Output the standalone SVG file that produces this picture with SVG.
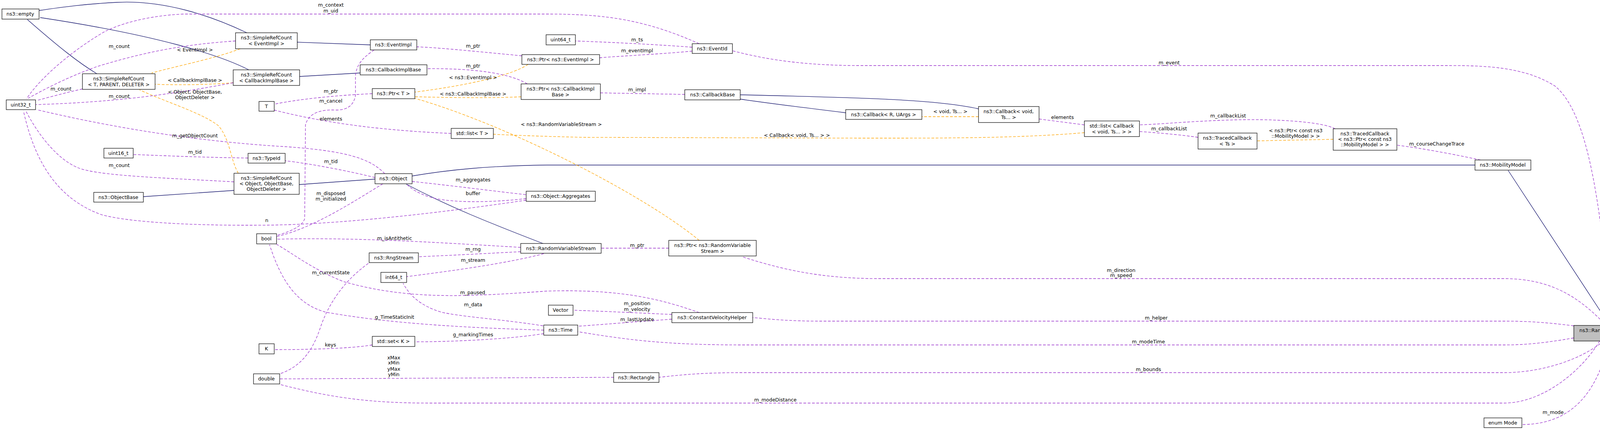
<svg xmlns="http://www.w3.org/2000/svg" width="4243" height="1102" viewBox="0 0 4243 1102">
<style>
text{font-family:"DejaVu Sans","Liberation Sans",sans-serif;font-size:12.5px;fill:#000;text-anchor:middle}
.n rect{fill:#fff;stroke:#000;stroke-width:1.2}
.n.m rect{fill:#bfbfbf}
path{fill:none;stroke-width:1.3}
.i{stroke:#191970}
.t{stroke:#ffa500;stroke-dasharray:7,4}
.u{stroke:#9a32cd;stroke-dasharray:7,4}
</style>
<defs>
<marker id="ai" markerUnits="userSpaceOnUse" markerWidth="14" markerHeight="12" refX="12" refY="5" orient="auto"><path d="M0,0 L12,5 L0,10z" fill="#191970" stroke="none"/></marker>
<marker id="at" markerUnits="userSpaceOnUse" markerWidth="14" markerHeight="12" refX="12" refY="5" orient="auto"><path d="M0,0 L12,5 L0,10z" fill="#ffa500" stroke="none"/></marker>
<marker id="au" markerUnits="userSpaceOnUse" markerWidth="14" markerHeight="12" refX="12" refY="5" orient="auto"><path d="M0,0 L12,5 L0,10z" fill="#9a32cd" stroke="none"/></marker>
</defs>
<rect width="4243" height="1102" fill="#fff"/>
<g id="edges">
<path class="i" marker-end="url(#ai)" d="M632,84 C540,40 420,0 300,6 C220,10 160,18 100,27"/>
<path class="i" marker-end="url(#ai)" d="M637,179 C560,140 400,90 103,45"/>
<path class="i" marker-end="url(#ai)" d="M248,189 C200,160 150,120 70,50"/>
<path class="i" marker-end="url(#ai)" d="M948,115 L761,108"/>
<path class="i" marker-end="url(#ai)" d="M922,187 L767,196"/>
<path class="i" marker-end="url(#ai)" d="M960,459 L766,473"/>
<path class="i" marker-end="url(#ai)" d="M599,488 L367,504"/>
<path class="i" marker-end="url(#ai)" d="M1390,624 C1250,570 1150,530 1040,472"/>
<path class="i" marker-end="url(#ai)" d="M3776,423 L1400,423 C1250,425 1150,435 1055,451"/>
<path class="i" marker-end="url(#ai)" d="M4121,834 L3861,437"/>
<path class="i" marker-end="url(#ai)" d="M2505,279 C2400,255 2200,250 1895,243"/>
<path class="i" marker-end="url(#ai)" d="M2165,289 C2050,275 1950,262 1895,254"/>
<path class="t" marker-end="url(#at)" d="M615,125 C550,150 450,170 388,187"/>
<path class="t" marker-end="url(#at)" d="M597,212 C520,218 450,218 397,216"/>
<path class="t" marker-end="url(#at)" d="M610,444 C590,410 590,360 560,323 C520,290 420,260 357,230"/>
<path class="t" marker-end="url(#at)" d="M1352,165 C1300,200 1150,225 1062,236"/>
<path class="t" marker-end="url(#at)" d="M1334,248 C1250,252 1150,250 1062,248"/>
<path class="t" marker-end="url(#at)" d="M1790,616 C1650,500 1300,320 1062,252"/>
<path class="t" marker-end="url(#at)" d="M2776,340 C2600,355 2400,354 2200,354 L1500,352 C1400,350 1300,346 1263,344"/>
<path class="t" marker-end="url(#at)" d="M2505,299 L2360,299"/>
<path class="t" marker-end="url(#at)" d="M3413,357 L3218,361"/>
<path class="u" marker-end="url(#au)" d="M603,105 C450,115 350,140 250,170 C180,195 120,225 72,252"/>
<path class="u" marker-end="url(#au)" d="M211,228 C170,237 130,248 96,257"/>
<path class="u" marker-end="url(#au)" d="M597,212 C450,240 300,262 92,268"/>
<path class="u" marker-end="url(#au)" d="M1790,112 C1650,50 1550,36 1400,36 L470,36 C380,40 310,60 268,81 C200,120 110,190 68,253"/>
<path class="u" marker-end="url(#au)" d="M985,445 C950,410 900,385 700,374 C500,360 300,330 94,281"/>
<path class="u" marker-end="url(#au)" d="M599,466 C400,455 250,450 200,430 C150,410 100,350 66,284"/>
<path class="u" marker-end="url(#au)" d="M1347,513 C1200,535 900,575 683,577 C500,579 330,570 259,550 C150,510 90,420 60,284"/>
<path class="u" marker-end="url(#au)" d="M635,405 C500,403 400,398 341,396"/>
<path class="u" marker-end="url(#au)" d="M960,455 C900,440 800,420 730,412"/>
<path class="u" marker-end="url(#au)" d="M958,128 C925,150 910,170 910,200 L910,245 C905,270 890,282 860,282 C820,280 790,290 782,320 L780,560 C775,580 740,595 709,603"/>
<path class="u" marker-end="url(#au)" d="M980,471 C900,520 800,585 709,606"/>
<path class="u" marker-end="url(#au)" d="M1333,634 C1100,620 900,608 709,613"/>
<path class="u" marker-end="url(#au)" d="M1790,801 C1700,770 1600,740 1400,746 C1200,760 1050,770 880,722 C800,690 750,650 708,626"/>
<path class="u" marker-end="url(#au)" d="M1392,846 C1200,840 1000,830 834,800 C760,780 720,720 690,627"/>
<path class="u" marker-end="url(#au)" d="M1333,645 C1200,652 1120,656 1071,658"/>
<path class="u" marker-end="url(#au)" d="M1392,650 C1300,675 1150,695 1041,709"/>
<path class="u" marker-end="url(#au)" d="M1390,835 C1300,820 1180,812 1130,800 C1080,785 1050,760 1032,726"/>
<path class="u" marker-end="url(#au)" d="M1392,855 C1300,870 1150,876 1062,876"/>
<path class="u" marker-end="url(#au)" d="M953,884 C900,893 800,896 702,896"/>
<path class="u" marker-end="url(#au)" d="M943,675 C880,720 840,780 820,840 C800,900 770,940 716,958"/>
<path class="u" marker-end="url(#au)" d="M1571,967 L716,971"/>
<path class="u" marker-end="url(#au)" d="M4095,874 C4050,950 3950,1033 3850,1033 L1100,1033 C950,1033 850,1020 716,985"/>
<path class="u" marker-end="url(#au)" d="M1055,465 C1150,475 1250,488 1347,499"/>
<path class="u" marker-end="url(#au)" d="M1347,509 C1250,520 1150,520 1100,505 C1070,495 1055,485 1043,474"/>
<path class="u" marker-end="url(#au)" d="M953,240 C850,245 760,255 702,267"/>
<path class="u" marker-end="url(#au)" d="M1155,342 C1000,335 850,320 702,282"/>
<path class="u" marker-end="url(#au)" d="M1336,143 C1200,130 1120,122 1067,120"/>
<path class="u" marker-end="url(#au)" d="M1350,215 C1300,185 1200,175 1093,176"/>
<path class="u" marker-end="url(#au)" d="M1772,121 C1650,112 1550,108 1473,105"/>
<path class="u" marker-end="url(#au)" d="M1772,131 C1700,138 1600,143 1535,148"/>
<path class="u" marker-end="url(#au)" d="M1753,242 L1537,238"/>
<path class="u" marker-end="url(#au)" d="M1712,636 L1539,636"/>
<path class="u" marker-end="url(#au)" d="M2776,320 L2660,305"/>
<path class="u" marker-end="url(#au)" d="M3418,330 C3380,310 3250,305 3170,307 C3050,310 2980,318 2917,320"/>
<path class="u" marker-end="url(#au)" d="M3067,352 C3020,345 2960,340 2917,337"/>
<path class="u" marker-end="url(#au)" d="M3790,410 C3720,395 3640,380 3576,372"/>
<path class="u" marker-end="url(#au)" d="M4128,834 C4100,600 4080,300 3980,220 C3900,170 3800,168 3700,168 L2200,168 C2050,168 1950,150 1875,130"/>
<path class="u" marker-end="url(#au)" d="M4112,834 C4050,770 3980,714 3850,714 L2250,714 C2100,714 2000,690 1900,658"/>
<path class="u" marker-end="url(#au)" d="M4029,835 C3950,825 3900,823 3850,823 L2100,823 C2000,823 1950,815 1927,814"/>
<path class="u" marker-end="url(#au)" d="M4029,866 C3950,880 3900,884 3850,884 L1900,884 C1700,884 1600,870 1479,850"/>
<path class="u" marker-end="url(#au)" d="M4105,874 C4050,920 3950,955 3850,955 L1900,955 C1800,955 1750,960 1687,967"/>
<path class="u" marker-end="url(#au)" d="M4120,874 C4100,950 4060,1088 3896,1088"/>
<path class="u" marker-end="url(#au)" d="M1720,806 C1600,800 1520,797 1467,795"/>
<path class="u" marker-end="url(#au)" d="M1720,818 C1620,825 1540,832 1479,836"/>
</g>
<g id="labels">
<text x="499" y="132">&lt; EventImpl &gt;</text>
<text x="499" y="210">&lt; CallbackImplBase &gt;</text>
<text x="499" y="240">&lt; Object, ObjectBase,</text>
<text x="499" y="254">ObjectDeleter &gt;</text>
<text x="1211" y="203">&lt; ns3::EventImpl &gt;</text>
<text x="1211" y="245">&lt; ns3::CallbackImplBase &gt;</text>
<text x="1437" y="323">&lt; ns3::RandomVariableStream &gt;</text>
<text x="2040" y="351">&lt; Callback&lt; void, Ts... &gt; &gt;</text>
<text x="2433" y="290">&lt; void, Ts... &gt;</text>
<text x="3317" y="339">&lt; ns3::Ptr&lt; const ns3</text>
<text x="3317" y="353">::MobilityModel &gt; &gt;</text>
<text x="305" y="123">m_count</text>
<text x="156" y="232">m_count</text>
<text x="305" y="251">m_count</text>
<text x="305" y="428">m_count</text>
<text x="847" y="17">m_context</text>
<text x="847" y="32">m_uid</text>
<text x="499" y="352">m_getObjectCount</text>
<text x="499" y="394">m_tid</text>
<text x="847" y="418">m_tid</text>
<text x="683" y="569">n</text>
<text x="847" y="238">m_ptr</text>
<text x="847" y="263">m_cancel</text>
<text x="847" y="309">elements</text>
<text x="847" y="500">m_disposed</text>
<text x="847" y="514">m_initialized</text>
<text x="1211" y="122">m_ptr</text>
<text x="1211" y="173">m_ptr</text>
<text x="1211" y="465">m_aggregates</text>
<text x="1211" y="500">buffer</text>
<text x="1631" y="106">m_ts</text>
<text x="1631" y="134">m_eventImpl</text>
<text x="1631" y="234">m_impl</text>
<text x="2993" y="165">m_event</text>
<text x="2720" y="305">elements</text>
<text x="3144" y="301">m_callbackList</text>
<text x="2993" y="334">m_callbackList</text>
<text x="3678" y="373">m_courseChangeTrace</text>
<text x="1010" y="615">m_isAntithetic</text>
<text x="1211" y="643">m_rng</text>
<text x="1211" y="671">m_stream</text>
<text x="847" y="703">m_currentState</text>
<text x="1210" y="754">m_paused</text>
<text x="1211" y="785">m_data</text>
<text x="1010" y="817">g_TimeStaticInit</text>
<text x="1211" y="862">g_markingTimes</text>
<text x="846" y="888">keys</text>
<text x="1008" y="921">xMax</text>
<text x="1008" y="934">xMin</text>
<text x="1008" y="950">yMax</text>
<text x="1008" y="964">yMin</text>
<text x="1631" y="633">m_ptr</text>
<text x="1631" y="782">m_position</text>
<text x="1631" y="797">m_velocity</text>
<text x="1631" y="823">m_lastUpdate</text>
<text x="2870" y="697">m_direction</text>
<text x="2870" y="710">m_speed</text>
<text x="2960" y="819">m_helper</text>
<text x="2940" y="880">m_modeTime</text>
<text x="2940" y="951">m_bounds</text>
<text x="1985" y="1029">m_modeDistance</text>
<text x="3976" y="1061">m_mode</text>
</g>
<g id="n-empty" class="n"><rect x="5" y="23" width="95" height="26"/><text x="52" y="40">ns3::empty</text></g>
<g id="n-uint32" class="n"><rect x="16" y="256" width="75" height="25"/><text x="53" y="273">uint32_t</text></g>
<g id="n-srctpd" class="n"><rect x="211" y="189" width="186" height="40"/><text x="304" y="206">ns3::SimpleRefCount</text><text x="304" y="221">&lt; T, PARENT, DELETER &gt;</text></g>
<g id="n-srcev" class="n"><rect x="603" y="84" width="158" height="41"/><text x="682" y="101">ns3::SimpleRefCount</text><text x="682" y="116">&lt; EventImpl &gt;</text></g>
<g id="n-srccb" class="n"><rect x="597" y="179" width="170" height="40"/><text x="682" y="196">ns3::SimpleRefCount</text><text x="682" y="211">&lt; CallbackImplBase &gt;</text></g>
<g id="n-T" class="n"><rect x="663" y="260" width="39" height="25"/><text x="682" y="277">T</text></g>
<g id="n-uint16" class="n"><rect x="266" y="380" width="75" height="25"/><text x="303" y="397">uint16_t</text></g>
<g id="n-typeid" class="n"><rect x="635" y="393" width="95" height="25"/><text x="682" y="410">ns3::TypeId</text></g>
<g id="n-srcobj" class="n"><rect x="599" y="444" width="167" height="54"/><text x="682" y="461">ns3::SimpleRefCount</text><text x="682" y="475">&lt; Object, ObjectBase,</text><text x="682" y="489">ObjectDeleter &gt;</text></g>
<g id="n-objectbase" class="n"><rect x="240" y="493" width="127" height="25"/><text x="303" y="510">ns3::ObjectBase</text></g>
<g id="n-bool" class="n"><rect x="657" y="599" width="51" height="26"/><text x="682" y="616">bool</text></g>
<g id="n-K" class="n"><rect x="663" y="881" width="39" height="26"/><text x="682" y="898">K</text></g>
<g id="n-double" class="n"><rect x="649" y="958" width="67" height="26"/><text x="682" y="975">double</text></g>
<g id="n-eventimpl" class="n"><rect x="948" y="102" width="119" height="26"/><text x="1007" y="119">ns3::EventImpl</text></g>
<g id="n-cbimpl" class="n"><rect x="922" y="166" width="171" height="26"/><text x="1007" y="183">ns3::CallbackImplBase</text></g>
<g id="n-ptrT" class="n"><rect x="953" y="227" width="109" height="26"/><text x="1007" y="244">ns3::Ptr&lt; T &gt;</text></g>
<g id="n-listT" class="n"><rect x="1155" y="329" width="108" height="26"/><text x="1209" y="346">std::list&lt; T &gt;</text></g>
<g id="n-object" class="n"><rect x="960" y="445" width="95" height="26"/><text x="1007" y="462">ns3::Object</text></g>
<g id="n-aggr" class="n"><rect x="1347" y="490" width="177" height="26"/><text x="1435" y="507">ns3::Object::Aggregates</text></g>
<g id="n-rngstream" class="n"><rect x="945" y="648" width="126" height="25"/><text x="1008" y="665">ns3::RngStream</text></g>
<g id="n-int64" class="n"><rect x="975" y="698" width="66" height="26"/><text x="1008" y="715">int64_t</text></g>
<g id="n-setK" class="n"><rect x="953" y="862" width="109" height="26"/><text x="1007" y="879">std::set&lt; K &gt;</text></g>
<g id="n-uint64" class="n"><rect x="1398" y="89" width="75" height="26"/><text x="1435" y="106">uint64_t</text></g>
<g id="n-ptrev" class="n"><rect x="1336" y="140" width="199" height="25"/><text x="1435" y="157">ns3::Ptr&lt; ns3::EventImpl &gt;</text></g>
<g id="n-ptrcb" class="n"><rect x="1334" y="215" width="203" height="40"/><text x="1435" y="232">ns3::Ptr&lt; ns3::CallbackImpl</text><text x="1435" y="247">Base &gt;</text></g>
<g id="n-rvs" class="n"><rect x="1333" y="624" width="206" height="25"/><text x="1436" y="641">ns3::RandomVariableStream</text></g>
<g id="n-time" class="n"><rect x="1392" y="833" width="87" height="26"/><text x="1435" y="850">ns3::Time</text></g>
<g id="n-vector" class="n"><rect x="1404" y="782" width="63" height="26"/><text x="1435" y="799">Vector</text></g>
<g id="n-rect" class="n"><rect x="1571" y="955" width="116" height="25"/><text x="1629" y="972">ns3::Rectangle</text></g>
<g id="n-eventid" class="n"><rect x="1772" y="112" width="103" height="25"/><text x="1823" y="129">ns3::EventId</text></g>
<g id="n-cbbase" class="n"><rect x="1753" y="230" width="142" height="26"/><text x="1824" y="247">ns3::CallbackBase</text></g>
<g id="n-ptrrvs" class="n"><rect x="1712" y="616" width="224" height="40"/><text x="1824" y="633">ns3::Ptr&lt; ns3::RandomVariable</text><text x="1824" y="648">Stream &gt;</text></g>
<g id="n-cvh" class="n"><rect x="1720" y="801" width="207" height="26"/><text x="1823" y="818">ns3::ConstantVelocityHelper</text></g>
<g id="n-cbRU" class="n"><rect x="2165" y="281" width="195" height="25"/><text x="2262" y="298">ns3::Callback&lt; R, UArgs &gt;</text></g>
<g id="n-cbvoid" class="n"><rect x="2505" y="273" width="155" height="41"/><text x="2582" y="290">ns3::Callback&lt; void,</text><text x="2582" y="305">Ts... &gt;</text></g>
<g id="n-listcb" class="n"><rect x="2776" y="310" width="141" height="40"/><text x="2846" y="327">std::list&lt; Callback</text><text x="2846" y="342">&lt; void, Ts... &gt; &gt;</text></g>
<g id="n-tcts" class="n"><rect x="3067" y="341" width="151" height="41"/><text x="3142" y="358">ns3::TracedCallback</text><text x="3142" y="373">&lt; Ts &gt;</text></g>
<g id="n-tcmm" class="n"><rect x="3413" y="330" width="163" height="55"/><text x="3494" y="347">ns3::TracedCallback</text><text x="3494" y="361">&lt; ns3::Ptr&lt; const ns3</text><text x="3494" y="375">::MobilityModel &gt; &gt;</text></g>
<g id="n-mm" class="n"><rect x="3776" y="410" width="143" height="26"/><text x="3847" y="427">ns3::MobilityModel</text></g>
<g id="n-rw" class="n m"><rect x="4029" y="834" width="206" height="40"/><text x="4132" y="851">ns3::RandomWalk2dMobility</text><text x="4132" y="866">Model</text></g>
<g id="n-mode" class="n"><rect x="3799" y="1071" width="97" height="25"/><text x="3847" y="1088">enum Mode</text></g>
</svg>
